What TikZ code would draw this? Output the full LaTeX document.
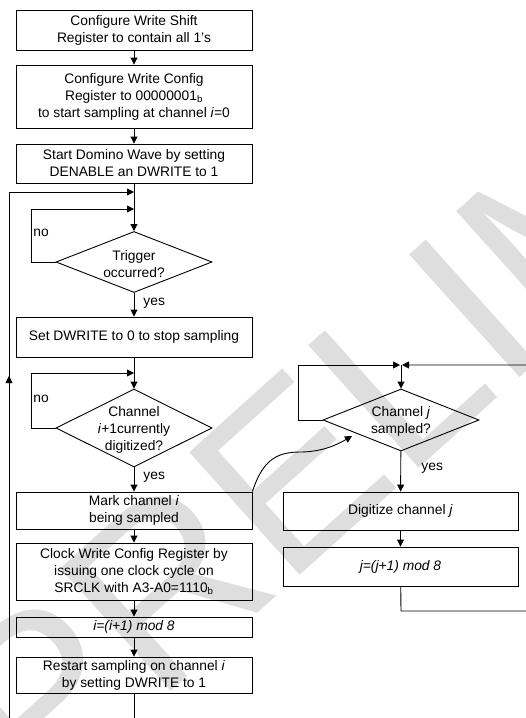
\documentclass[tikz,border=0pt]{standalone}
\usepackage{fontspec}
\setmainfont{Liberation Sans}
\usetikzlibrary{arrows.meta,shapes.geometric}
\begin{document}
\begin{tikzpicture}[x=1pt,y=-1pt,
  font=\fontsize{13.8}{17}\selectfont,
  line width=0.9pt,
  box/.style={draw, rectangle, inner sep=0pt, align=center},
  lbox/.style={box, minimum width=236pt},
  rbox/.style={box, minimum width=235pt},
  dia/.style={draw, diamond, inner sep=0pt, minimum width=156pt},
  txt/.style={align=center, inner sep=0pt},
  lbl/.style={anchor=west, inner sep=0pt},
  arr/.style={-{Triangle[length=7pt,width=7pt]}},
  wm/.style={text=black!13, font=\fontsize{240}{240}\selectfont}
]
\useasboundingbox (0,0) rectangle (526,718);
\clip (0,0) rectangle (526,718);
% watermark
\node[wm, rotate=42, anchor=base west, inner sep=0pt] (wmark) at (37,812) {PRELIMINARY};

% left column
\node[lbox, minimum height=40pt] (b1) at (134,30) {Configure Write Shift\\Register to contain all 1’s};
\node[lbox, minimum height=63pt] (b2) at (134,96.5) {Configure Write Config\\Register to 00000001\textsubscript{b}\\to start sampling at channel \textit{i}=0};
\node[lbox, minimum height=39pt] (b3) at (134,163.5) {Start Domino Wave by setting\\DENABLE an DWRITE to 1};
\node[dia, minimum height=61pt] (d1) at (134,262) {};
\node[txt] (d1t) at (134,264) {Trigger\\occurred?};
\node[lbox, minimum height=40pt] (b4) at (134,337) {Set DWRITE to 0 to stop sampling};
\node[dia, minimum height=78pt] (d2) at (134,428) {};
\node[txt] (d2t) at (134,430) {Channel\\\textit{i}+1currently\\digitized?};
\node[lbox, minimum height=37pt] (b5) at (134,510.5) {Mark channel \textit{i}\\being sampled};
\node[lbox, minimum height=57pt] (b6) at (134,571.5) {Clock Write Config Register by\\issuing one clock cycle on\\SRCLK with A3-A0=1110\textsubscript{b}};
\node[lbox, minimum height=20pt] (b7) at (134,627) {\textit{i=(i+1) mod 8}};
\node[lbox, minimum height=36pt] (b8) at (134,675) {Restart sampling on channel \textit{i}\\by setting DWRITE to 1};

% right column
\node[dia, minimum height=62pt] (d3) at (401,420) {};
\node[txt] (d3t) at (401,421) {Channel \textit{j}\\sampled?};
\node[rbox, minimum height=38pt] (b9) at (400.5,511) {Digitize channel \textit{j}};
\node[rbox, minimum height=39pt] (b10) at (400.5,566.5) {\textit{j=(j+1) mod 8}};

% labels
\node[lbl] (no1) at (33,233) {no};
\node[lbl] (no2) at (33,399) {no};
\node[lbl] (yes1) at (143,303) {yes};
\node[lbl] (yes2) at (143,477) {yes};
\node[lbl] (yes3) at (421,468) {yes};

% coordinates
\coordinate (j1) at (134,192);
\coordinate (j2) at (134,209);
\coordinate (j3) at (134,373);
\coordinate (j4) at (401,365);
\coordinate (lowL) at (134,730);
\coordinate (lowR) at (401,611);

% left flow
\draw[arr] (b1) -- (b2);
\draw[arr] (b2) -- (b3);
\draw[arr] (b3) -- (d1);
\draw[arr] (d1) -- (b4);
\draw[arr] (b4) -- (d2);
\draw[arr] (d2) -- (b5);
\draw[arr] (b5) -- (b6);
\draw[arr] (b6) -- (b7);
\draw[arr] (b7) -- (b8);
\draw[arr] (d1.west) -- (31,262) -- (31,209) -- (j2);
\draw[arr] (d2.west) -- (31,428) -- (31,373) -- (j3);
\draw[arr] (b8) -- (lowL) -- (9,730) -- (9,192) -- (j1);
\draw[arr] (9,500) -- (9,376);

% right flow
\draw[arr] (d3.west) -- (298,420) -- (298,365) -- ([xshift=-1pt]j4);
\draw[arr] (b10) -- (lowR) -- (528,611) -- (528,365) -- ([xshift=1pt]j4);
\draw[arr] (j4) -- (d3);
\draw[arr] (d3) -- (b9);
\draw[arr] (b9) -- (b10);

% curved arrow
\draw[arr] (b5.north east) .. controls (262,462) and (275,452) .. (300,452) .. controls (320,452) and (335,446) .. (352,436);
\end{tikzpicture}
\end{document}
